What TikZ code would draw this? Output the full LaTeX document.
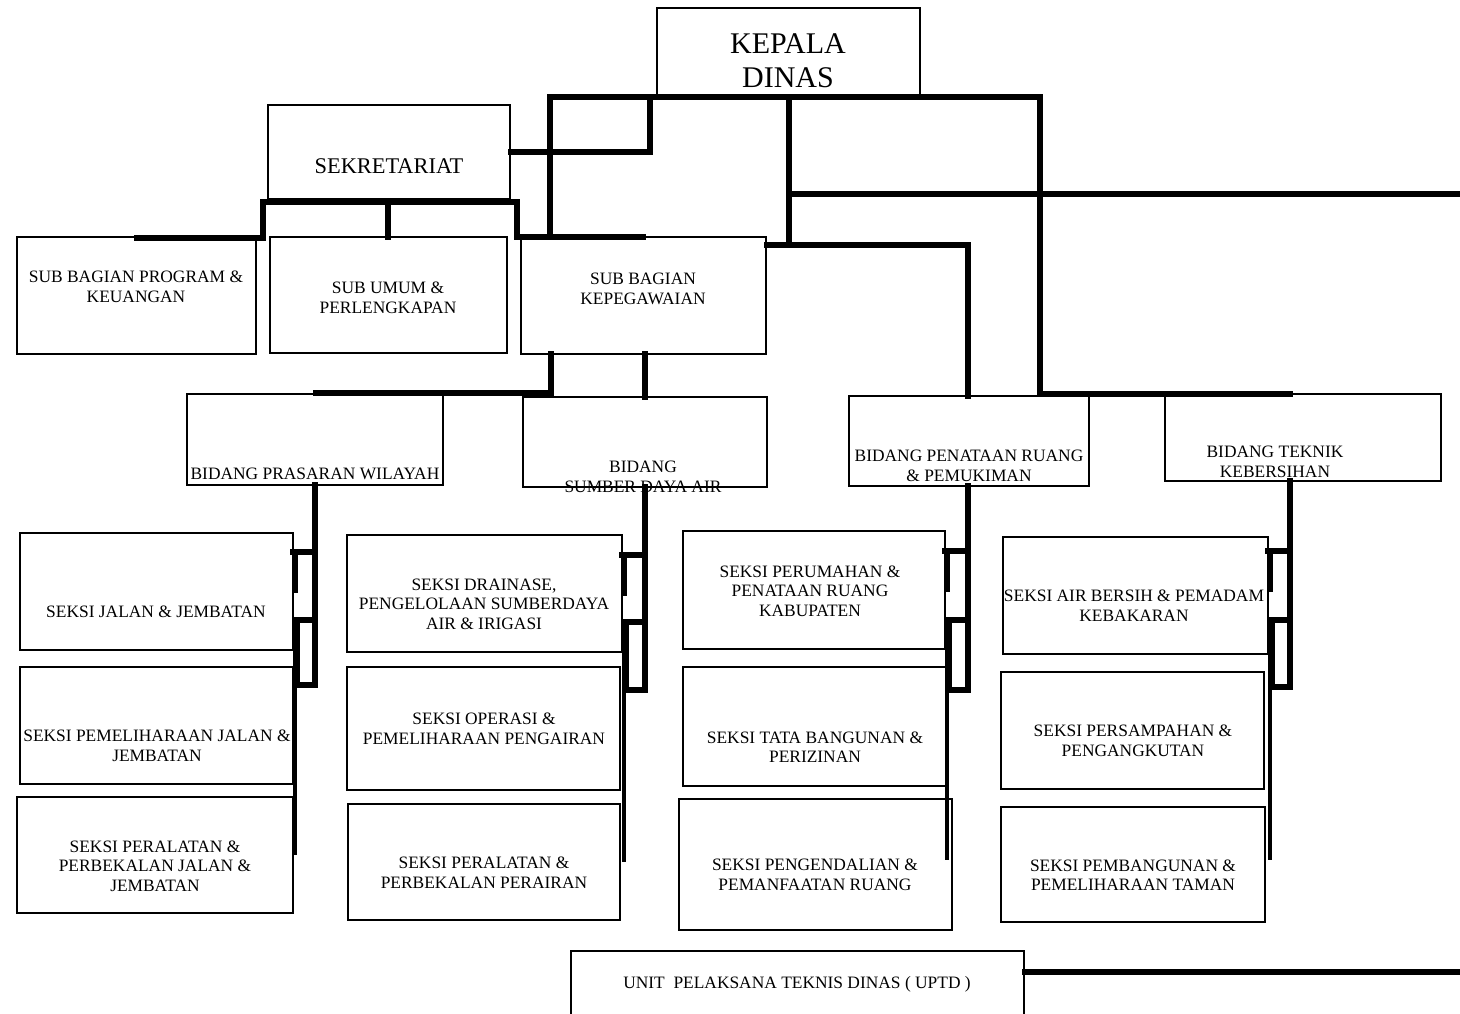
\documentclass[tikz,border=0pt]{standalone}
\usepackage{fontspec}
\setmainfont{Liberation Serif}
\usetikzlibrary{fit}
\begin{document}
\begin{tikzpicture}[x=0.5pt,y=-0.5pt,
  box/.style={draw, line width=0.9pt, inner sep=0pt},
  txt/.style={align=center, inner sep=0pt, font=\fontsize{8.7}{9.8}\selectfont},
  conn/.style={line width=2.6pt, line cap=rect},
  tail/.style={line width=1.6pt}]
\fill[white] (0,0) rectangle (1460,1013);
\useasboundingbox (0,0) rectangle (1460,1013);

% ---------- boxes ----------
\node[box, fit={(657,8) (920,97)}] (kd) {};
\node[box, fit={(268,105) (510,199)}] (sek) {};
\node[box, fit={(17,237) (256,354)}] (sbp) {};
\node[box, fit={(270,237) (507,353)}] (sbu) {};
\node[box, fit={(521,237) (766,354)}] (sbk) {};
\node[box, fit={(187,394) (443,485)}] (bpw) {};
\node[box, fit={(523,397) (767,487)}] (bsda) {};
\node[box, fit={(849,396) (1089,486)}] (bprp) {};
\node[box, fit={(1165,394) (1441,481)}] (btk) {};
\node[box, fit={(20,533) (293,650)}] (s11) {};
\node[box, fit={(20,667) (293,784)}] (s12) {};
\node[box, fit={(17,797) (293,913)}] (s13) {};
\node[box, fit={(347,535) (622,652)}] (s21) {};
\node[box, fit={(347,667) (620,790)}] (s22) {};
\node[box, fit={(348,804) (620,920)}] (s23) {};
\node[box, fit={(683,531) (945,649)}] (s31) {};
\node[box, fit={(683,667) (947,786)}] (s32) {};
\node[box, fit={(679,799) (952,930)}] (s33) {};
\node[box, fit={(1003,537) (1268,654)}] (s41) {};
\node[box, fit={(1001,672) (1264,789)}] (s42) {};
\node[box, fit={(1001,807) (1265,922)}] (s43) {};
\node[box, fit={(571,951) (1024,1030)}] (uptd) {};

% ---------- texts ----------
\node[align=center, inner sep=0pt, font=\fontsize{15}{17}\selectfont] (kd-t) at (788,61) {KEPALA\\DINAS};
\node[inner sep=0pt, font=\fontsize{11.2}{13}\selectfont] (sek-t) at (389,166) {SEKRETARIAT};
\node[txt] (sbp-t) at (136,287) {SUB BAGIAN PROGRAM \&\\KEUANGAN};
\node[txt] (sbu-t) at (388,298) {SUB UMUM \&\\PERLENGKAPAN};
\node[txt] (sbk-t) at (643,289) {SUB BAGIAN\\KEPEGAWAIAN};
\node[txt] (bpw-t) at (315,474) {BIDANG PRASARAN WILAYAH};
\node[txt] (bsda-t) at (643,477) {BIDANG\\SUMBER DAYA AIR};
\node[txt] (bprp-t) at (969,466) {BIDANG PENATAAN RUANG\\\& PEMUKIMAN};
\node[txt] (btk-t) at (1275,462) {BIDANG TEKNIK\\KEBERSIHAN};
\node[txt] (s11-t) at (156,612) {SEKSI JALAN \& JEMBATAN};
\node[txt] (s12-t) at (157,746) {SEKSI PEMELIHARAAN JALAN \&\\JEMBATAN};
\node[txt] (s13-t) at (155,866) {SEKSI PERALATAN \&\\PERBEKALAN JALAN \&\\JEMBATAN};
\node[txt] (s21-t) at (484,604) {SEKSI DRAINASE,\\PENGELOLAAN SUMBERDAYA\\AIR \& IRIGASI};
\node[txt] (s22-t) at (484,729) {SEKSI OPERASI \&\\PEMELIHARAAN PENGAIRAN};
\node[txt] (s23-t) at (484,873) {SEKSI PERALATAN \&\\PERBEKALAN PERAIRAN};
\node[txt] (s31-t) at (810,591) {SEKSI PERUMAHAN \&\\PENATAAN RUANG\\KABUPATEN};
\node[txt] (s32-t) at (815,747) {SEKSI TATA BANGUNAN \&\\PERIZINAN};
\node[txt] (s33-t) at (815,875) {SEKSI PENGENDALIAN \&\\PEMANFAATAN RUANG};
\node[txt] (s41-t) at (1134,606) {SEKSI AIR BERSIH \& PEMADAM\\KEBAKARAN};
\node[txt] (s42-t) at (1133,741) {SEKSI PERSAMPAHAN \&\\PENGANGKUTAN};
\node[txt] (s43-t) at (1133,875) {SEKSI PEMBANGUNAN \&\\PEMELIHARAAN TAMAN};
\node[txt] (uptd-t) at (797,984) {UNIT\ \ PELAKSANA TEKNIS DINAS ( UPTD )};

% ---------- connectors from the head ----------
\draw[conn] (550,237) -- (550,97) -- (1040,97) -- (1040,394) -- (1290,394);
\draw[conn] (650,97) -- (650,152) -- (sek.east);
\draw[conn] (789,97) -- (789,245) -- (968,245) -- (968,396);
\draw[conn] (sbk.east |- 0,245) -- (789,245);
\draw[conn] (789,194) -- (1460,194);
\coordinate (rightA) at (1460,972);
\draw[conn] (uptd.east |- rightA) -- (rightA);

% ---------- secretariat branches ----------
\draw[conn] (137,238) -- (263,238) -- (263,202) -- (517,202) -- (517,237) -- (643,237);
\draw[conn] (388,202) -- (388,237);

% ---------- branches below the staff row ----------
\draw[conn] (551,354) -- (551,393) -- (316,393);
\draw[conn] (645,354) -- (645,397);

% ---------- section brackets of each field ----------
% trunk x, box edge x, top y, y1, y2, y3, end y
\foreach \T/\R/\yt/\ya/\yb/\yc/\ye in
  {315/293/485/552/620/685/855,
   645/622/487/555/622/690/862,
   968/945/486/551/620/690/860,
   1290/1268/481/551/620/687/860}{
  \draw[conn] (\T,\yt) -- (\T,\yc) -- (\R+4,\yc) -- (\R+4,\yb) -- (\T,\yb);
  \draw[conn] (\R,\ya) -- (\T,\ya);
  \draw[conn] (\R+2,\ya) -- (\R+2,\ya+38);
  \draw[tail] (\R+2,\yb+30) -- (\R+2,\ye);
}
\end{tikzpicture}
\end{document}
